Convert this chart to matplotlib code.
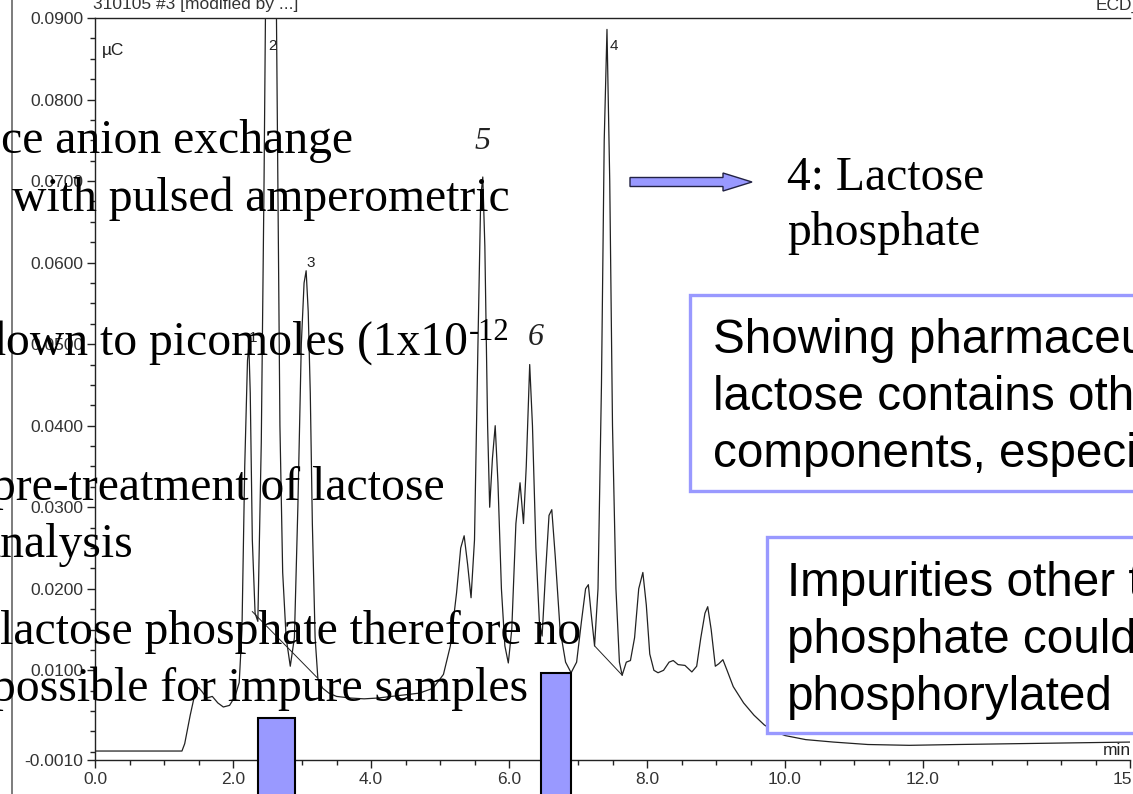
import matplotlib.pyplot as plt
from matplotlib.patches import Rectangle, FancyArrow
from matplotlib.lines import Line2D
from matplotlib.text import Annotation
from matplotlib.transforms import Affine2D
from matplotlib.ticker import FixedLocator, MultipleLocator

W, H = 1133, 794

# ECD trace: retention time (min) and detector response (µC)
time_min = [0.00, 1.26, 1.30, 1.38, 1.45, 1.50, 1.55, 1.62, 1.70, 1.78,
            1.86, 1.95, 2.03, 2.09, 2.13, 2.17, 2.21, 2.23, 2.25, 2.28,
            2.32, 2.36, 2.41, 2.45, 2.49, 2.55, 2.61, 2.65, 2.68, 2.72,
            2.77, 2.83, 2.89, 2.94, 2.99, 3.03, 3.06, 3.09, 3.12, 3.15,
            3.19, 3.23, 3.30, 3.39, 3.50, 3.70, 3.90, 4.10, 4.30, 4.50,
            4.70, 4.90, 5.05, 5.15, 5.24, 5.30, 5.35, 5.40, 5.45, 5.50,
            5.55, 5.59, 5.62, 5.65, 5.69, 5.72, 5.76, 5.80, 5.84, 5.89,
            5.94, 5.99, 6.04, 6.10, 6.16, 6.21, 6.25, 6.30, 6.34, 6.39,
            6.44, 6.48, 6.53, 6.58, 6.62, 6.67, 6.74, 6.82, 6.90, 6.98,
            7.05, 7.11, 7.15, 7.19, 7.24, 7.29, 7.34, 7.38, 7.42, 7.46,
            7.50, 7.55, 7.60, 7.64, 7.70, 7.76, 7.82, 7.88, 7.94, 7.99,
            8.04, 8.10, 8.16, 8.24, 8.32, 8.38, 8.45, 8.55, 8.65, 8.72,
            8.78, 8.84, 8.88, 8.93, 8.99, 9.04, 9.10, 9.16, 9.25, 9.40,
            9.55, 9.70, 9.85, 10.00, 10.30, 10.70, 11.20, 11.80, 12.50, 13.30,
            14.20, 15.00]
signal_uc = [0.0001, 0.0001, 0.0010, 0.0045, 0.0072, 0.0079, 0.0074, 0.0066, 0.0068, 0.0060,
             0.0055, 0.0057, 0.0068, 0.0085, 0.0150, 0.0350, 0.0480, 0.0498, 0.0440, 0.0260,
             0.0170, 0.0160, 0.0380, 0.0700, 0.1100, 0.1600, 0.1100, 0.0700, 0.0400, 0.0220,
             0.0140, 0.0105, 0.0140, 0.0300, 0.0500, 0.0575, 0.0590, 0.0540, 0.0440, 0.0280,
             0.0140, 0.0090, 0.0078, 0.0072, 0.0068, 0.0066, 0.0065, 0.0066, 0.0068, 0.0070,
             0.0072, 0.0078, 0.0095, 0.0130, 0.0195, 0.0250, 0.0265, 0.0230, 0.0189, 0.0260,
             0.0500, 0.0680, 0.0705, 0.0620, 0.0400, 0.0300, 0.0360, 0.0400, 0.0330, 0.0200,
             0.0130, 0.0109, 0.0150, 0.0280, 0.0330, 0.0280, 0.0350, 0.0475, 0.0400, 0.0250,
             0.0160, 0.0142, 0.0220, 0.0290, 0.0297, 0.0240, 0.0150, 0.0110, 0.0097, 0.0110,
             0.0160, 0.0200, 0.0205, 0.0170, 0.0130, 0.0200, 0.0450, 0.0750, 0.0886, 0.0700,
             0.0400, 0.0200, 0.0110, 0.0094, 0.0110, 0.0112, 0.0140, 0.0200, 0.0220, 0.0180,
             0.0120, 0.0100, 0.0097, 0.0100, 0.0110, 0.0112, 0.0107, 0.0106, 0.0098, 0.0105,
             0.0140, 0.0170, 0.0178, 0.0150, 0.0105, 0.0108, 0.0113, 0.0100, 0.0080, 0.0060,
             0.0045, 0.0033, 0.0025, 0.0020, 0.0015, 0.0012, 0.0009, 0.0008, 0.0009, 0.0010,
             0.0011, 0.0012]

# straight integration baselines (start/end time, start/end response)
base_t0 = [2.28, 7.24]
base_t1 = [3.22, 7.64]
base_v0 = [0.0172, 0.0130]
base_v1 = [0.0091, 0.0094]

# peak numbers printed by the data system, and the two written by hand
peak_labels = ["1", "2", "3", "4"]
peak_label_t = [2.29, 2.57, 3.13, 7.52]
peak_label_v = [0.0508, 0.0866, 0.0600, 0.0866]
hand_labels = ["5", "6"]
hand_label_t = [5.62, 6.38]
hand_label_v = [0.0748, 0.0508]

# highlighted retention windows along the time axis
window_start = [2.36, 6.46]
window_end = [2.90, 6.90]
window_top = [0.0042, 0.0097]

y_ticks = [0.09, 0.08, 0.07, 0.06, 0.05, 0.04, 0.03, 0.02, 0.01, -0.001]
x_ticks = [0, 2, 4, 6, 8, 10, 12, 15]
x_tick_labels = ["0.0", "2.0", "4.0", "6.0", "8.0", "10.0", "12.0", "15.0"]

PERI = "#9999ff"
INK = "#222222"
SERIF = "Liberation Serif"
SANS = "Liberation Sans"
BIG = 34.3

fig = plt.figure(figsize=(W / 100, H / 100), dpi=100)
# pixel coordinates measured from the top-left corner
px = Affine2D().scale(1 / W, -1 / H).translate(0, 1) + fig.transFigure

ax = fig.add_axes([95 / W, (H - 760) / H, 1035 / W, 742 / H])
ax.set_xlim(0, 15)
ax.set_ylim(-0.001, 0.09)
ax.plot(time_min, signal_uc, color=INK, lw=0.9)
for t0, t1, v0, v1 in zip(base_t0, base_t1, base_v0, base_v1):
    ax.plot([t0, t1], [v0, v1], color=INK, lw=0.7)

for s, t, v in zip(peak_labels, peak_label_t, peak_label_v):
    ax.text(t, v, s, family=SANS, fontsize=11, color=INK, ha="center", va="center")
for s, t, v in zip(hand_labels, hand_label_t, hand_label_v):
    ax.text(t, v, s, family=SERIF, fontsize=23, style="italic", color=INK,
            ha="center", va="center")

for a, b, top in zip(window_start, window_end, window_top):
    ax.bar(a, top + 0.008, width=b - a, bottom=-0.008, align="edge",
           color=PERI, edgecolor="black", lw=1.5, clip_on=False, zorder=6)

ax.spines["right"].set_visible(False)
for sp in ("left", "top", "bottom"):
    ax.spines[sp].set_color(INK)
    ax.spines[sp].set_linewidth(1.0)
ax.yaxis.set_major_locator(FixedLocator(y_ticks))
ax.set_yticklabels([f"{v:.4f}" for v in y_ticks])
ax.yaxis.set_minor_locator(MultipleLocator(0.0025))
ax.xaxis.set_major_locator(FixedLocator(x_ticks))
ax.set_xticklabels(x_tick_labels)
ax.xaxis.set_minor_locator(MultipleLocator(0.5))
ax.tick_params(which="major", length=5.5, width=1, color=INK, labelsize=12.5,
               labelcolor="#333333", pad=3)
ax.tick_params(which="minor", length=3.5, width=1, color=INK)
for lab in ax.get_xticklabels() + ax.get_yticklabels():
    lab.set_family(SANS)
ax.text(0.1, 0.0855, "µC", family=SANS, fontsize=12.5, color=INK)
ax.text(14.6, -0.0004, "min", family=SANS, fontsize=12.5, color=INK, ha="left")

# scanned frame and header of the printout
fig.add_artist(Line2D([12, 12], [0, H], transform=px, color="#666666", lw=1.2))
fig.text(93, 9, "310105 #3 [modified by ...]", transform=px, family=SANS,
         fontsize=12.5, color="#333333", va="baseline")
fig.text(1096, 10, "ECD_1", transform=px, family=SANS, fontsize=12.5,
         color="#333333", va="baseline")

# slide text running over the chromatogram
left_lines = [
    (1, 153, "ce anion exchange"),
    (12, 211, "with pulsed amperometric"),
    (-8, 500, "pre-treatment of lactose"),
    (-21, 557, "analysis"),
    (0, 644, "lactose phosphate therefore no"),
    (-8, 701, "possible for impure samples"),
]
for x, y, s in left_lines:
    fig.text(x, y, s, transform=px, family=SERIF, fontsize=BIG, color="black",
             va="baseline", zorder=8)
pico = fig.text(-18, 355, "down to picomoles (1x10", transform=px, family=SERIF,
                fontsize=BIG, color="black", va="baseline", zorder=8)
fig.add_artist(Annotation("-12", xy=(1, 1), xycoords=pico, xytext=(0.5, 2),
                          textcoords="offset points", family=SERIF, fontsize=22,
                          color="black", ha="left", va="top", zorder=8))

fig.add_artist(FancyArrow(630, 182, 122, 0, width=9, head_width=18,
                          head_length=29, length_includes_head=True,
                          transform=px, facecolor=PERI, edgecolor="#222244",
                          lw=1.0, zorder=8))
fig.text(787, 190, "4: Lactose", transform=px, family=SERIF, fontsize=BIG,
         va="baseline", zorder=8)
fig.text(787, 245, "phosphate", transform=px, family=SERIF, fontsize=BIG,
         va="baseline", zorder=8)

fig.add_artist(Rectangle((690, 295), 500, 196, transform=px, facecolor="white",
                         edgecolor=PERI, lw=2.4, zorder=7))
for y, s in [(353, "Showing pharmaceutical"), (410, "lactose contains other"),
             (467, "components, especially")]:
    fig.text(713, y, s, transform=px, family=SANS, fontsize=BIG, va="baseline",
             zorder=8)

fig.add_artist(Rectangle((767, 537), 450, 196, transform=px, facecolor="white",
                         edgecolor=PERI, lw=2.4, zorder=7))
for y, s in [(596, "Impurities other than"), (653, "phosphate could be"),
             (710, "phosphorylated")]:
    fig.text(787, y, s, transform=px, family=SANS, fontsize=BIG, va="baseline",
             zorder=8)

fig.savefig("out.png", dpi=100)
